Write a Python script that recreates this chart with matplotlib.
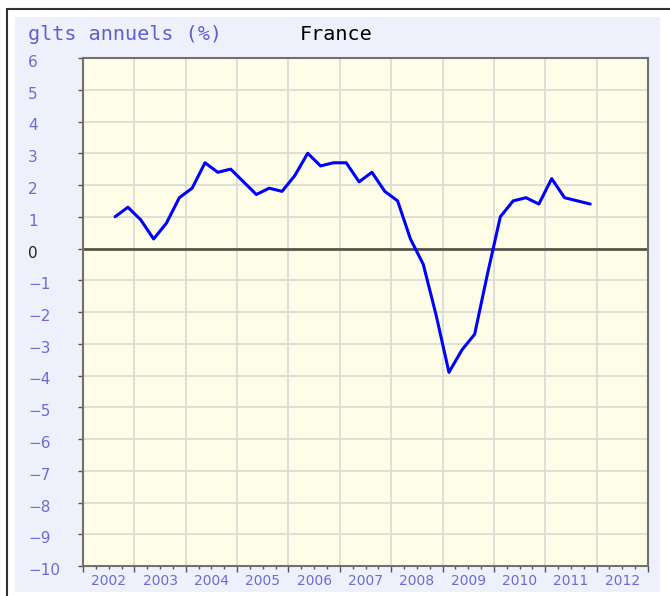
import matplotlib
matplotlib.use("Agg")
import matplotlib.pyplot as plt
from matplotlib.patches import Rectangle
from matplotlib.transforms import ScaledTranslation, blended_transform_factory

# ---- data ----
periods = ["2002T3", "2002T4",
           "2003T1", "2003T2", "2003T3", "2003T4",
           "2004T1", "2004T2", "2004T3", "2004T4",
           "2005T1", "2005T2", "2005T3", "2005T4",
           "2006T1", "2006T2", "2006T3", "2006T4",
           "2007T1", "2007T2", "2007T3", "2007T4",
           "2008T1", "2008T2", "2008T3", "2008T4",
           "2009T1", "2009T2", "2009T3", "2009T4",
           "2010T1", "2010T2", "2010T3", "2010T4",
           "2011T1", "2011T2", "2011T3", "2011T4"]
values = [1.0, 1.3,
          0.9, 0.3, 0.8, 1.6,
          1.9, 2.7, 2.4, 2.5,
          2.1, 1.7, 1.9, 1.8,
          2.3, 3.0, 2.6, 2.7,
          2.7, 2.1, 2.4, 1.8,
          1.5, 0.3, -0.5, -2.1,
          -3.9, -3.2, -2.7, -0.8,
          1.0, 1.5, 1.6, 1.4,
          2.2, 1.6, 1.5, 1.4]
year_labels = ["2002", "2003", "2004", "2005", "2006", "2007",
               "2008", "2009", "2010", "2011", "2012"]
y_ticks = list(range(-10, 7))
title_left = "glts annuels (%)"
title_country = "France"

# x position of each quarter (middle of the quarter)
xs = [int(p[:4]) + (int(p[-1]) - 0.5) / 4 for p in periods]

W, H = 670, 596
fig = plt.figure(figsize=(W / 100, H / 100), dpi=100)
fig.patch.set_facecolor("white")

# outer frame and panel
fig.add_artist(Rectangle((7 / W, -0.05), 1.2, 1 - 9 / H + 0.05,
                         transform=fig.transFigure, facecolor="white",
                         edgecolor="#333333", lw=1.5, zorder=-2))
fig.add_artist(Rectangle((15 / W, 1 - 592 / H), (660 - 15) / W, (592 - 17) / H,
                         transform=fig.transFigure, facecolor="#eef1fb",
                         edgecolor="none", zorder=-1))

ax_l, ax_r, ax_t, ax_b = 83, 648, 58, 566
ax = fig.add_axes([ax_l / W, 1 - ax_b / H, (ax_r - ax_l) / W, (ax_b - ax_t) / H])
ax.set_zorder(2)
ax.set_facecolor("#fdfde8")

tick_color = "#6b6bd4"

ax.plot(xs, values, color="#0000ff", lw=2.2, solid_joinstyle="round",
        solid_capstyle="round", zorder=3)
ax.axhline(0, color="#55554a", lw=2, zorder=2)

ax.set_xlim(2002, 2013)
ax.set_ylim(-10, 6)

# grid
years = [int(y) for y in year_labels] + [2013]
ax.set_xticks(years)
ax.set_xticks([y + q / 4 for y in years[:-1] for q in (1, 2, 3)], minor=True)
ax.set_xticklabels([])
ax.set_yticks(y_ticks)
ax.set_yticklabels([str(v).replace("-", "\u2212") for v in y_ticks])
ax.grid(True, which="major", color="#dcdcd6", lw=1.3, zorder=1)
ax.set_axisbelow(True)

for s in ax.spines.values():
    s.set_color("#707070")
    s.set_linewidth(1.5)

ax.tick_params(axis="x", which="major", length=4, width=1, color="#555555",
               direction="out")
ax.tick_params(axis="x", which="minor", length=2.5, width=1, color="#555555",
               direction="out")
ax.tick_params(axis="y", which="major", length=3.6, width=1, color="#555555",
               direction="out", pad=36, labelsize=11, labelcolor=tick_color)

off = ScaledTranslation(0, -3 / 100, fig.dpi_scale_trans)
for lab, v in zip(ax.get_yticklabels(), y_ticks):
    lab.set_horizontalalignment("left")
    lab.set_transform(lab.get_transform() + off)
    if v == 0:
        lab.set_color("#222222")

# year labels centered in each year interval
bt = blended_transform_factory(ax.transData, ax.transAxes)
for lab in year_labels:
    ax.text(int(lab) + 0.5, -15 / (ax_b - ax_t), lab, transform=bt,
            ha="center", va="center", fontsize=10, color=tick_color)

fig.text(28 / W, 1 - 35 / H, title_left, family="DejaVu Sans Mono",
         fontsize=14.5, color="#5f5fcf", va="center", ha="left")
fig.text(300 / W, 1 - 35 / H, title_country, family="DejaVu Sans Mono",
         fontsize=14.5, color="black", va="center", ha="left")

fig.savefig("out.png", dpi=100, facecolor="white")
